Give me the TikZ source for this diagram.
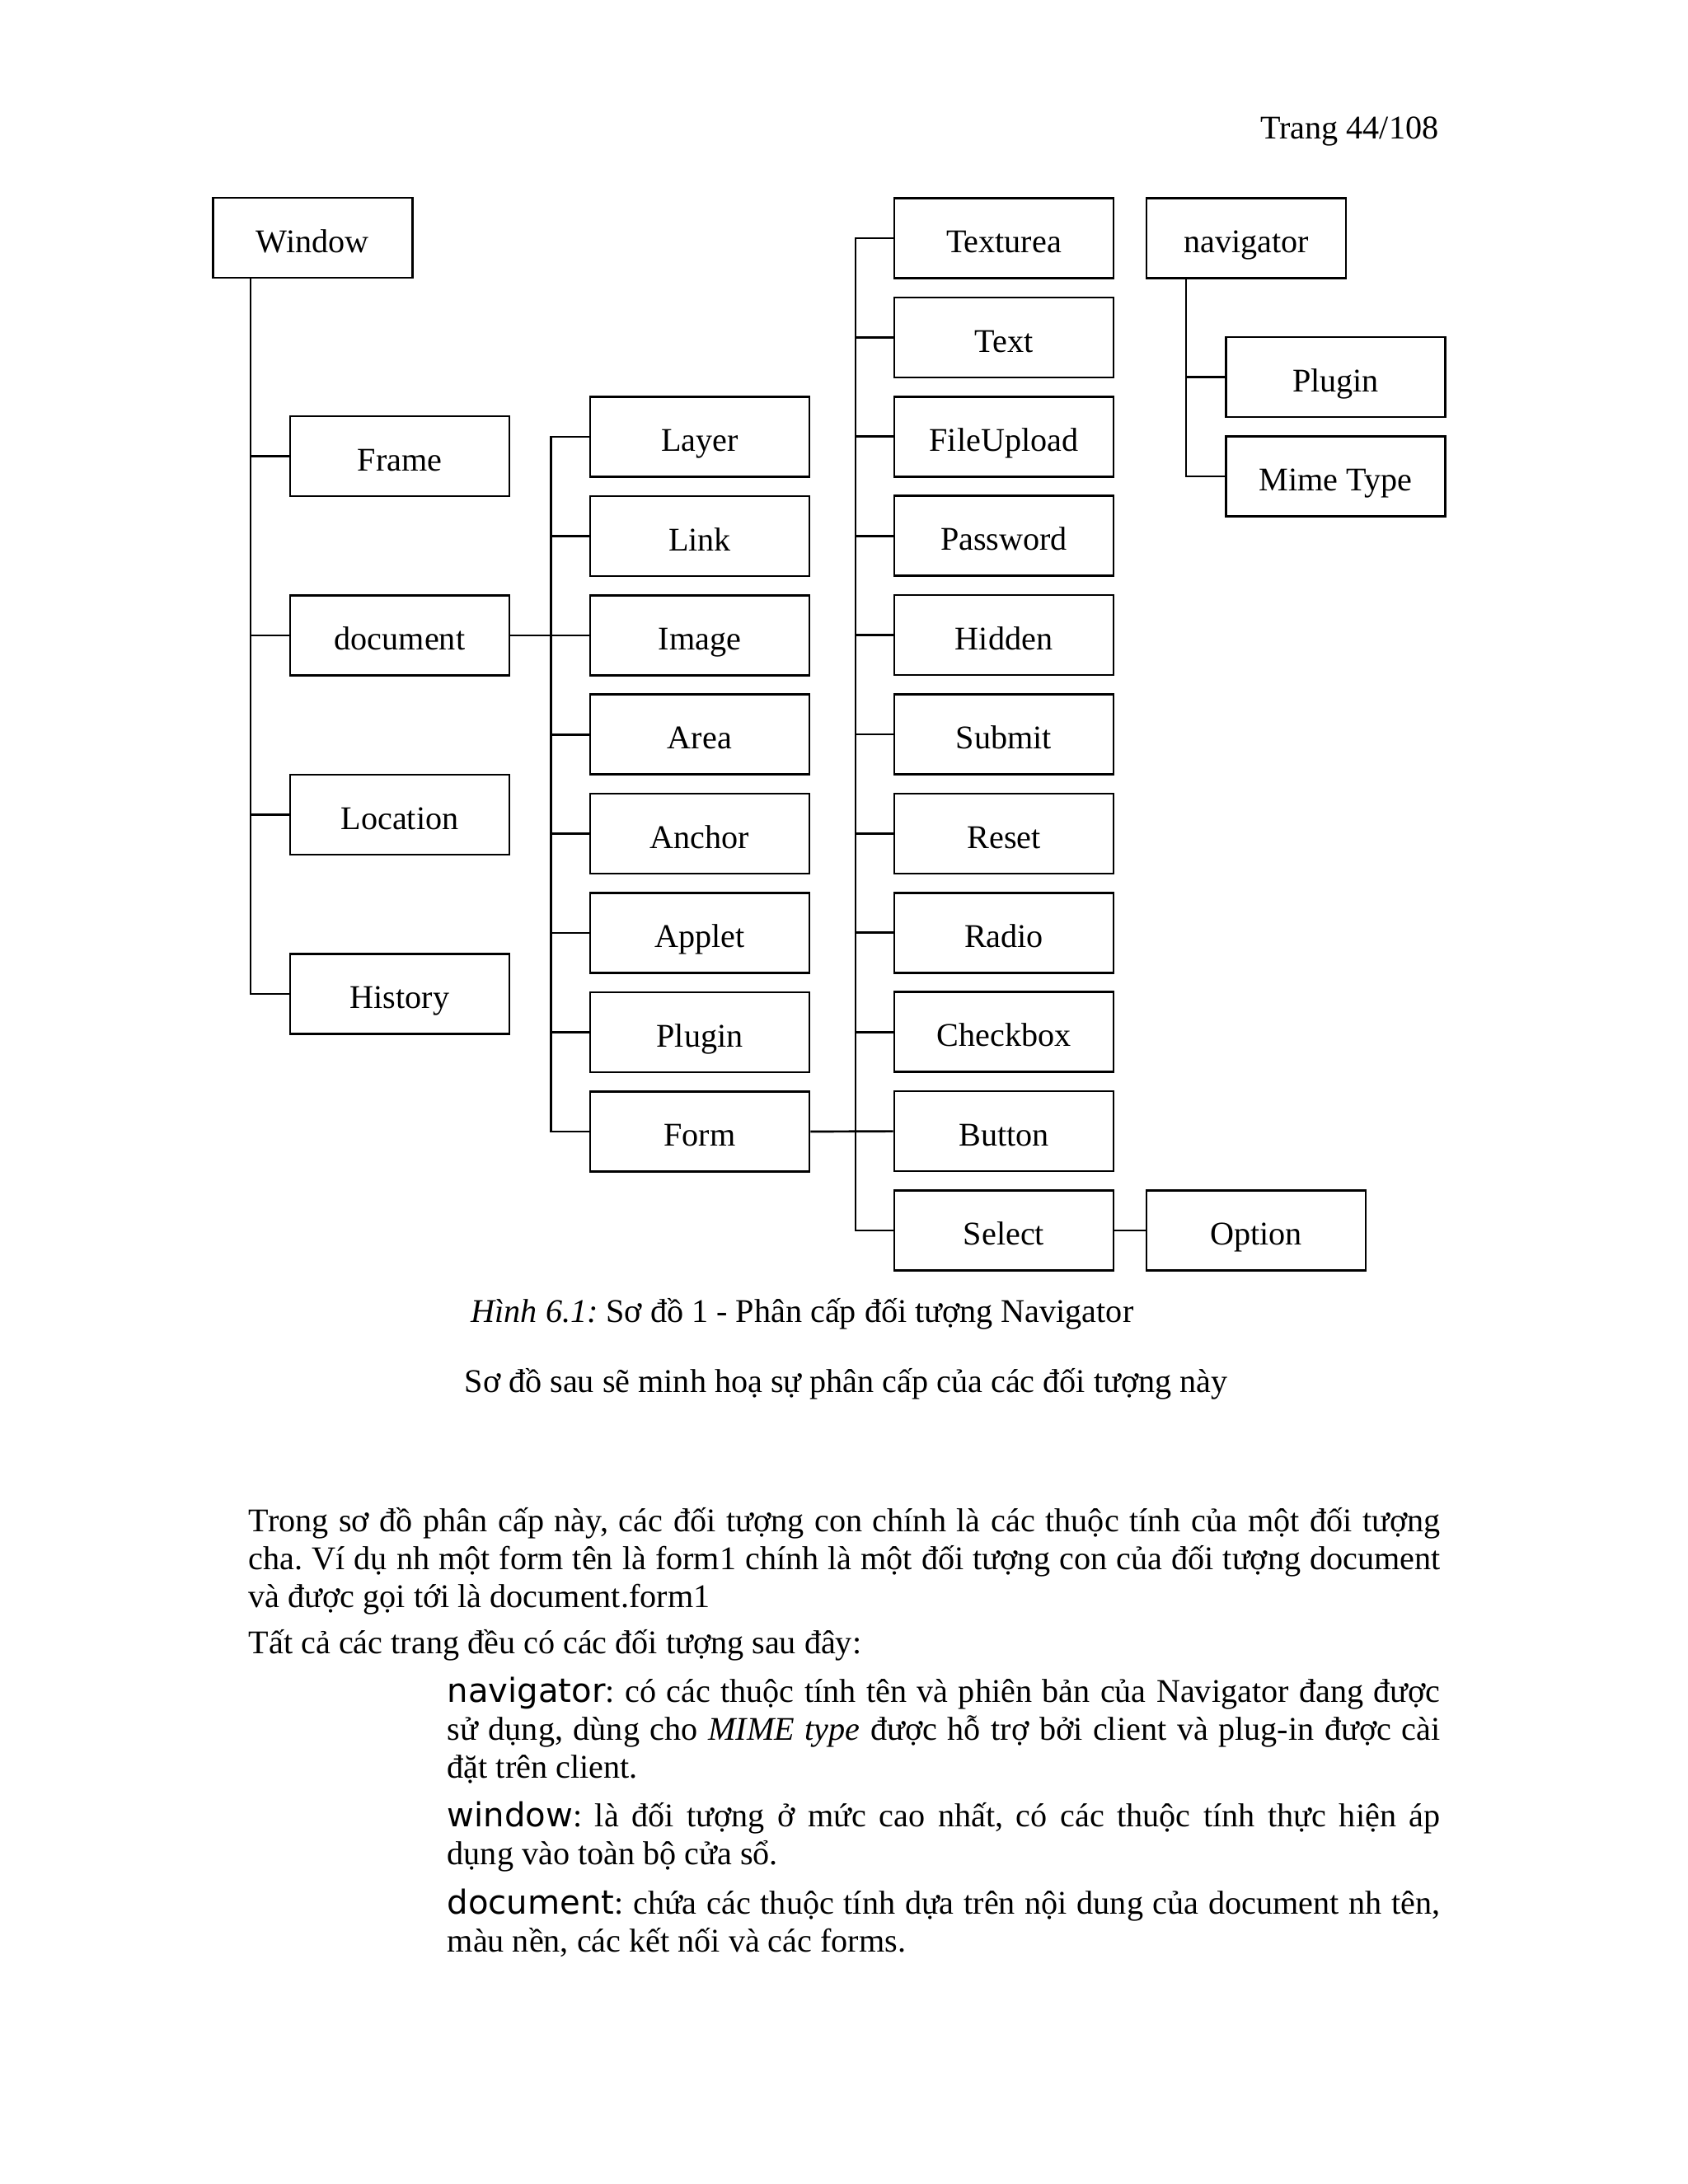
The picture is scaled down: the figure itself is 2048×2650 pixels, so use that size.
\documentclass[tikz,border=0pt]{standalone}
\usepackage{fontspec}
\setmainfont{Liberation Serif}
\newfontfamily\dvs{DejaVu Sans}
\newcommand{\jl}[2]{\hbox to #1{#2}}
\frenchspacing
\begin{document}
\begin{tikzpicture}[x=0.29883pt,y=-0.29883pt,
  box/.style={draw,line width=0.8pt,minimum height=29pt,inner sep=0pt,text height=11.9pt,text depth=1.3pt,font=\fontsize{12pt}{14pt}\selectfont},
  wbox/.style={box,minimum width=79.5pt},
  nbox/.style={box,minimum width=72.3pt},
  link/.style={line width=0.8pt},
  body/.style={anchor=base west,inner sep=0pt,font=\fontsize{12pt}{13.8pt}\selectfont}]
\useasboundingbox[fill=white] (0,0) rectangle (2048,2650);

% header
\node[body,anchor=base east] (hdr) at (1746,168) {Trang 44/108};

% column 0
\node[nbox] (window) at (379.2,288.5) {Window};
% column 1
\node[wbox] (frame) at (485,553.5) {Frame};
\node[wbox] (document) at (485,771) {document};
\node[wbox] (location) at (485,988.5) {Location};
\node[wbox] (history) at (485,1206) {History};
% column 2
\node[wbox] (layer) at (849,530) {Layer};
\node[wbox] (link) at (849,650.4) {Link};
\node[wbox] (image) at (849,771) {Image};
\node[wbox] (area) at (849,891.2) {Area};
\node[wbox] (anchor) at (849,1011.6) {Anchor};
\node[wbox] (applet) at (849,1132) {Applet};
\node[wbox] (plugin) at (849,1252.4) {Plugin};
\node[wbox] (form) at (849,1373) {Form};
% column 3
\node[wbox] (texturea) at (1218,289) {Texturea};
\node[wbox] (text) at (1218,409.4) {Text};
\node[wbox] (fileupload) at (1218,529.8) {FileUpload};
\node[wbox] (password) at (1218,650.2) {Password};
\node[wbox] (hidden) at (1218,770.6) {Hidden};
\node[wbox] (submit) at (1218,891) {Submit};
\node[wbox] (reset) at (1218,1011.4) {Reset};
\node[wbox] (radio) at (1218,1131.8) {Radio};
\node[wbox] (checkbox) at (1218,1252.2) {Checkbox};
\node[wbox] (button) at (1218,1372.6) {Button};
\node[wbox] (select) at (1218,1493) {Select};
\node[wbox] (option) at (1524,1493) {Option};
% navigator
\node[nbox] (navigator) at (1512,289) {navigator};
\node[wbox] (plugtwo) at (1620.5,457.5) {Plugin};
\node[wbox] (mime) at (1620.5,578) {Mime Type};

% trunks
\coordinate (t0) at (304,0);
\coordinate (t2) at (668.6,0);
\coordinate (t3) at (1038,0);
\coordinate (tn) at (1439,0);

\draw[link] (window.south -| t0) |- (history.west);
\foreach \n in {frame,document,location}
  \draw[link] (\n.west -| t0) -- (\n.west);
\draw[link] (document.east) -- (image.west);
\draw[link] (layer.west) -- (layer.west -| t2) -- (form.west -| t2) -- (form.west);
\foreach \n in {link,area,anchor,applet,plugin}
  \draw[link] (\n.west -| t2) -- (\n.west);
\draw[link] (form.east) -- (button.west);
\draw[link] (texturea.west) -- (texturea.west -| t3) -- (select.west -| t3) -- (select.west);
\foreach \n in {text,fileupload,password,hidden,submit,reset,radio,checkbox}
  \draw[link] (\n.west -| t3) -- (\n.west);
\draw[link] (select.east) -- (option.west);
\draw[link] (navigator.south -| tn) |- (mime.west);
\draw[link] (plugtwo.west -| tn) -- (plugtwo.west);

% caption
\node[body] (cap) at (571,1604) {\textit{Hình 6.1:} Sơ đồ 1 - Phân cấp đối tượng Navigator};
\node[body] (cap2) at (563,1689) {Sơ đồ sau sẽ minh hoạ sự phân cấp của các đối tượng này};

% body text
\node[body] (p1) at (301.2,1858) {\jl{432pt}{Trong sơ đồ phân cấp này, các đối tượng con chính là các thuộc tính của một đối tượng}};
\node[body] (p2) at (301.2,1904) {\jl{432pt}{cha. Ví dụ nh một form tên là form1 chính là một đối tượng con của đối tượng document}};
\node[body] (p3) at (301.2,1950) {và được gọi tới là document.form1};
\node[body] (p4) at (301.2,2006) {Tất cả các trang đều có các đối tượng sau đây:};
\node[body] (n1) at (542.1,2065) {\jl{360pt}{{\dvs navigator}: có các thuộc tính tên và phiên bản của Navigator đang được}};
\node[body] (n2) at (542.1,2111) {\jl{360pt}{sử dụng, dùng cho \textit{MIME type} được hỗ trợ bởi client và plug-in được cài}};
\node[body] (n3) at (542.1,2157) {đặt trên client.};
\node[body] (w1) at (542.1,2216) {\jl{360pt}{{\dvs window}: là đối tượng ở mức cao nhất, có các thuộc tính thực hiện áp}};
\node[body] (w2) at (542.1,2262) {dụng vào toàn bộ cửa sổ.};
\node[body] (d1) at (542.1,2322) {\jl{360pt}{{\dvs document}: chứa các thuộc tính dựa trên nội dung của document nh tên,}};
\node[body] (d2) at (542.1,2368) {màu nền, các kết nối và các forms.};
\end{tikzpicture}
\end{document}
